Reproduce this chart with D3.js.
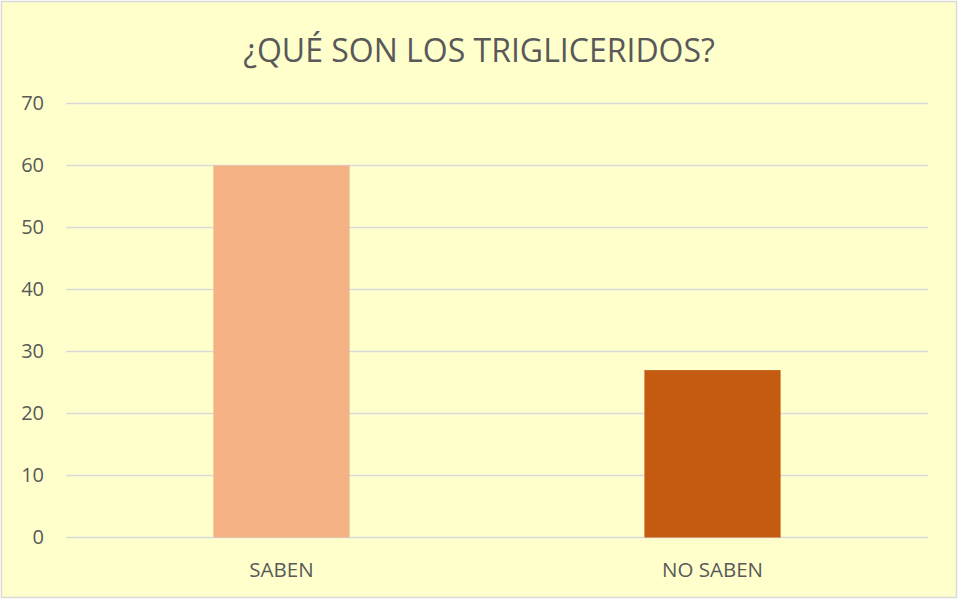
<!DOCTYPE html>
<html>
<head>
<meta charset="utf-8">
<script src="https://cdn.jsdelivr.net/npm/d3@7"></script>
<style>
  body { margin: 0; background: #fff; }
  text { font-family: "Open Sans", sans-serif; fill: #595959; }
</style>
</head>
<body>
<script>
var categories = ['SABEN', 'NO SABEN'];
var values = [60, 27];
var barColors = ['#F4B183', '#C55A11'];
var yTicks = [0, 10, 20, 30, 40, 50, 60, 70];
var title = '¿QUÉ SON LOS TRIGLICERIDOS?';

var screen = {width: 958, height: 600};
var plot = {left: 66, right: 928, top: 103.5, bottom: 537.5};

var svg = d3.select('body').append('svg')
    .attr('width', screen.width)
    .attr('height', screen.height)
    .style('display', 'block');

// background
svg.append('rect')
    .attr('x', 1.5).attr('y', 1.5)
    .attr('width', screen.width - 3).attr('height', screen.height - 4)
    .attr('fill', '#FFFFCC')
    .attr('stroke', '#D9D9D9')
    .attr('stroke-width', 1.5);

// scales
var xScale = d3.scaleBand()
    .domain(categories)
    .range([plot.left, plot.right])
    .paddingInner(0.684)
    .paddingOuter(0.342);

var yScale = d3.scaleLinear()
    .domain([0, 70])
    .range([plot.bottom, plot.top]);

// gridlines
svg.append('g')
    .selectAll('line')
    .data(yTicks)
    .enter()
    .append('line')
    .attr('x1', plot.left)
    .attr('x2', plot.right)
    .attr('y1', function(d){ return yScale(d) })
    .attr('y2', function(d){ return yScale(d) })
    .attr('stroke', '#D9D9D9')
    .attr('stroke-width', 1.5);

// y axis
var yAxis = d3.axisLeft(yScale)
    .tickValues(yTicks)
    .tickSize(0)
    .tickPadding(0);
svg.append('g')
    .attr('transform', 'translate(' + 44 + ',0)')
    .call(yAxis)
    .call(function(g){ g.select('.domain').remove() })
    .selectAll('text')
    .attr('font-size', 20)
    .style('font-family', '"Open Sans", sans-serif')
    .attr('fill', '#595959');

// bars
svg.append('g')
    .selectAll('rect')
    .data(values)
    .enter()
    .append('rect')
    .attr('x', function(d, i){ return xScale(categories[i]) })
    .attr('y', function(d){ return yScale(d) })
    .attr('width', xScale.bandwidth())
    .attr('height', function(d){ return yScale(0) - yScale(d) })
    .attr('fill', function(d, i){ return barColors[i] });

// category labels
svg.append('g')
    .selectAll('text')
    .data(categories)
    .enter()
    .append('text')
    .attr('text-anchor', 'middle')
    .attr('x', function(d){ return xScale(d) + xScale.bandwidth() / 2 })
    .attr('y', 577)
    .attr('font-size', 20.5)
    .text(function(d){ return d });

// title
svg.append('text')
    .attr('text-anchor', 'middle')
    .attr('x', 479)
    .attr('y', 62)
    .attr('font-size', 32)
    .text(title);
</script>
</body>
</html>
